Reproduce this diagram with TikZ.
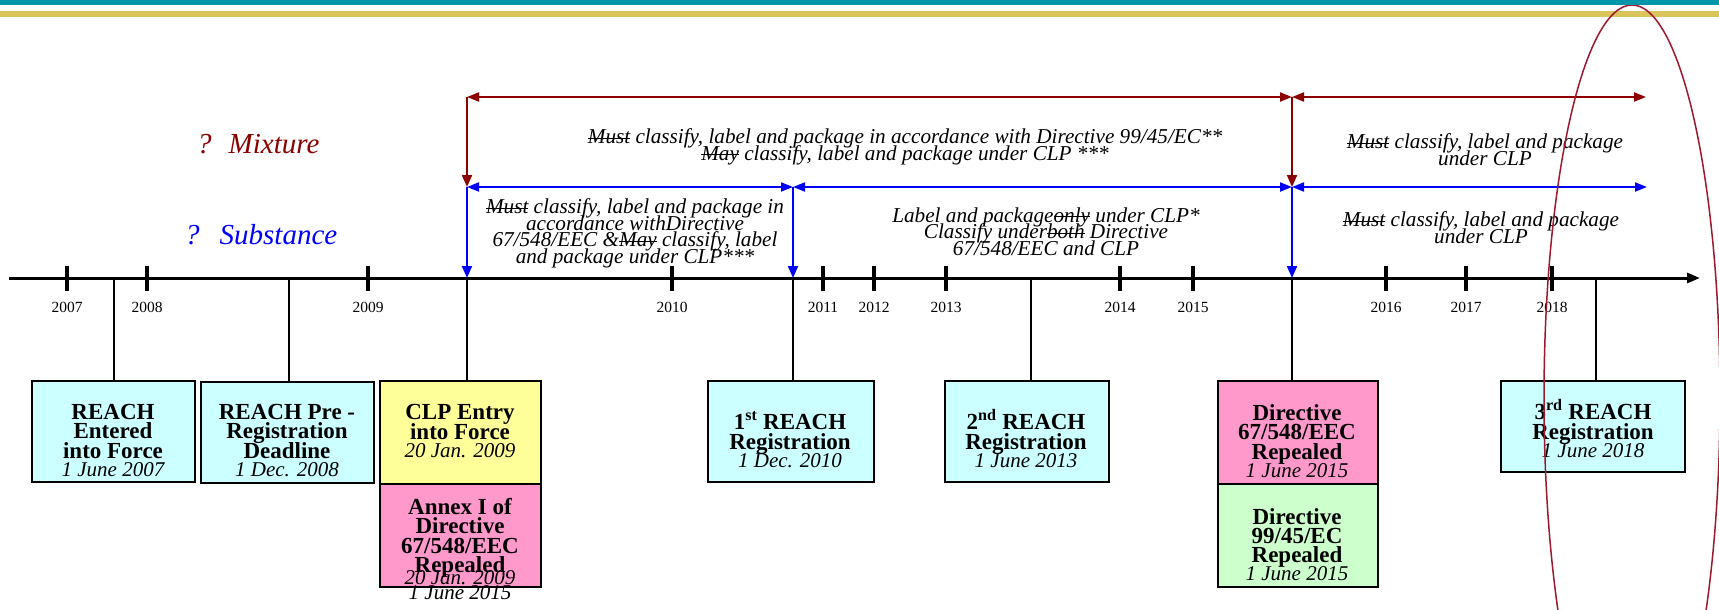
\documentclass[tikz,border=0pt]{standalone}
\usepackage{fontspec}
\setmainfont{Liberation Serif}
\usetikzlibrary{arrows.meta}
\definecolor{tealbar}{RGB}{0,151,168}
\definecolor{goldbar}{RGB}{217,197,90}
\definecolor{ellred}{RGB}{158,24,46}
\definecolor{mixred}{RGB}{140,0,0}
\definecolor{subblue}{RGB}{0,0,255}
\definecolor{cyanbox}{RGB}{204,255,255}
\definecolor{yellowbox}{RGB}{255,255,153}
\definecolor{pinkbox}{RGB}{255,153,204}
\definecolor{greenbox}{RGB}{204,255,204}
\newcommand\dte[1]{{\normalfont\fontsize{21}{16}\selectfont\itshape #1}}
\newcommand\mystrike[1]{\begingroup\setbox0\hbox{#1}\rlap{\rule[0.22em]{\wd0}{1.1pt}}\box0\endgroup}
\newcommand\tightlines{\lineskiplimit -100pt\relax}
\newcommand\boxfont{\fontsize{23}{19.3}\selectfont\bfseries\tightlines}
\newcommand\periodfont{\fontsize{21.2}{16.5}\selectfont\itshape\tightlines}
\begin{document}
\begin{tikzpicture}[x=1pt,y=-1pt,
  conn/.style={line width=1.5pt},
  mixarrow/.style={draw=mixred, line width=2pt, {Triangle[length=12pt,width=9pt]}-{Triangle[length=12pt,width=9pt]}},
  mixdown/.style={draw=mixred, line width=2pt, -{Triangle[length=12pt,width=10pt]}},
  subarrow/.style={draw=subblue, line width=2pt, {Triangle[length=12pt,width=9pt]}-{Triangle[length=12pt,width=9pt]}},
  subdown/.style={draw=subblue, line width=2pt, -{Triangle[length=12pt,width=10pt]}},
  yeartick/.style={line width=4.5pt},
  yearlab/.style={font=\fontsize{15.5}{18}\selectfont, anchor=base, inner sep=0},
  evbox/.style={draw=black, line width=2pt, inner sep=0},
  btext/.style={align=center, inner sep=0, anchor=base, font=\boxfont},
  itext/.style={align=center, inner sep=0, anchor=base, font=\periodfont},
  catlab/.style={font=\fontsize{29}{30}\selectfont\itshape, anchor=base west, inner sep=0},
]
\clip (0,0) rectangle (1719,610);
\fill[white] (0,0) rectangle (1719,610);
\fill[goldbar] (0,11) rectangle (1719,17);

% axis
\coordinate (axL) at (9,278);
\coordinate (axR) at (1700,278);
\draw[line width=3pt, -{Triangle[length=13pt,width=10pt]}] (axL) -- (axR);
\foreach \x/\yr in {67/2007,147/2008,368/2009,672/2010,823/2011,874/2012,946/2013,1120/2014,1193/2015,1386/2016,1466/2017,1552/2018}{
  \draw[yeartick] (\x,266) -- (\x,291);
  \node[yearlab] (y\yr) at (\x,312.5) {\yr};
}

% boxes
\node[evbox, fill=cyanbox, minimum width=163pt, minimum height=101pt] (b1) at (113.5,431.5) {};
\node[evbox, fill=cyanbox, minimum width=173pt, minimum height=101pt] (b2) at (287,432) {};
\node[evbox, fill=yellowbox, minimum width=161pt, minimum height=103pt] (b3) at (460.5,432.5) {};
\node[evbox, fill=pinkbox, minimum width=161pt, minimum height=103pt] (b4) at (460.5,535.5) {};
\node[evbox, fill=cyanbox, minimum width=166pt, minimum height=101pt] (b5) at (791,431.5) {};
\node[evbox, fill=cyanbox, minimum width=164pt, minimum height=101pt] (b6) at (1027,431.5) {};
\node[evbox, fill=pinkbox, minimum width=160pt, minimum height=103pt] (b7) at (1298,432.5) {};
\node[evbox, fill=greenbox, minimum width=160pt, minimum height=103pt] (b8) at (1298,535.5) {};
\node[evbox, fill=cyanbox, minimum width=184pt, minimum height=91pt] (b9) at (1593,426.5) {};

% connectors from axis to boxes
\coordinate (k1) at (114,278);
\coordinate (k2) at (289,278);
\coordinate (k3) at (467,278);
\coordinate (k5) at (793,278);
\coordinate (k6) at (1031,278);
\coordinate (k7) at (1292,278);
\coordinate (k9) at (1596,278);
\draw[conn] (k1) -- (k1 |- b1.north);
\draw[conn] (k2) -- (k2 |- b2.north);
\draw[conn] (k3) -- (k3 |- b3.north);
\draw[conn] (k5) -- (k5 |- b5.north);
\draw[conn] (k6) -- (k6 |- b6.north);
\draw[conn] (k7) -- (k7 |- b7.north);
\draw[conn] (k9) -- (k9 |- b9.north);

% box texts (anchored at the baseline of the last line)
\node[btext] (t1) at (113,476) {REACH\\Entered\\into Force\\[-1.5pt]\dte{1 June 2007}};
\node[btext] (t2) at (287,476) {REACH Pre -\\Registration\\Deadline\\[-1.5pt]\dte{1 Dec. 2008}};
\node[btext] (t3) at (460,457) {CLP Entry\\into Force\\[-1.5pt]\dte{20 Jan. 2009}};
\node[btext] (t4) at (460,599) {Annex I of\\Directive\\67/548/EEC\\Repealed\\[-7.5pt]\dte{20 Jan. 2009}\\[-4.5pt]\dte{1 June 2015}};
\node[btext] (t5) at (790,467) {1\textsuperscript{st} REACH\\Registration\\[-1.5pt]\dte{1 Dec. 2010}};
\node[btext] (t6) at (1026,467) {2\textsuperscript{nd} REACH\\Registration\\[-1.5pt]\dte{1 June 2013}};
\node[btext] (t7) at (1297,477) {Directive\\67/548/EEC\\Repealed\\[-1.5pt]\dte{1 June 2015}};
\node[btext] (t8) at (1297,580) {Directive\\99/45/EC\\Repealed\\[-2pt]\dte{1 June 2015}};
\node[btext] (t9) at (1593,457) {3\textsuperscript{rd} REACH\\Registration\\[-1.5pt]\dte{1 June 2018}};

% arrow coordinates
\coordinate (mA) at (467,97);
\coordinate (mB) at (1292,97);
\coordinate (mC) at (1646,97);
\coordinate (sA) at (467,187);
\coordinate (sB) at (793,187);
\coordinate (sC) at (1292,187);
\coordinate (sD) at (1647,187);

\draw[subarrow] (sA) -- (sB);
\draw[subarrow] (sB) -- (sC);
\draw[subarrow] (sC) -- (sD);
\draw[subdown] (sA) -- (k3);
\draw[subdown] (sB) -- (k5);
\draw[subdown] (sC) -- (k7);
\draw[mixarrow] (mA) -- (mB);
\draw[mixarrow] (mB) -- (mC);
\draw[mixdown] (mA) -- (sA);
\draw[mixdown] (mB) -- (sC);

% category labels
\node[catlab, text=mixred] (mixlab) at (197,153) {?\hspace{17pt}Mixture};
\node[catlab, text=subblue] (sublab) at (185,244) {?\hspace{20pt}Substance};

% period texts (anchored at the baseline of the last line)
\node[itext] (tA) at (905,160) {\mystrike{Must} classify, label and package in accordance with Directive 99/45/EC**\\\mystrike{May} classify, label and package under CLP ***};
\node[itext] (tB) at (1485,165) {\mystrike{Must} classify, label and package\\under CLP};
\node[itext] (tC) at (635,263) {\mystrike{Must} classify, label and package in\\accordance withDirective\\67/548/EEC \&\mystrike{May} classify, label\\and package under CLP***};
\node[itext] (tD) at (1046,255) {Label and package\mystrike{only} under CLP*\\Classify under\mystrike{both} Directive\\67/548/EEC and CLP};
\node[itext] (tE) at (1481,243) {\mystrike{Must} classify, label and package\\under CLP};

% highlight ellipse and top bar
\draw[ellred, line width=1.5pt] (1632,398) ellipse [x radius=88, y radius=393];
\fill[tealbar] (0,0) rectangle (1719,5);
\end{tikzpicture}
\end{document}
